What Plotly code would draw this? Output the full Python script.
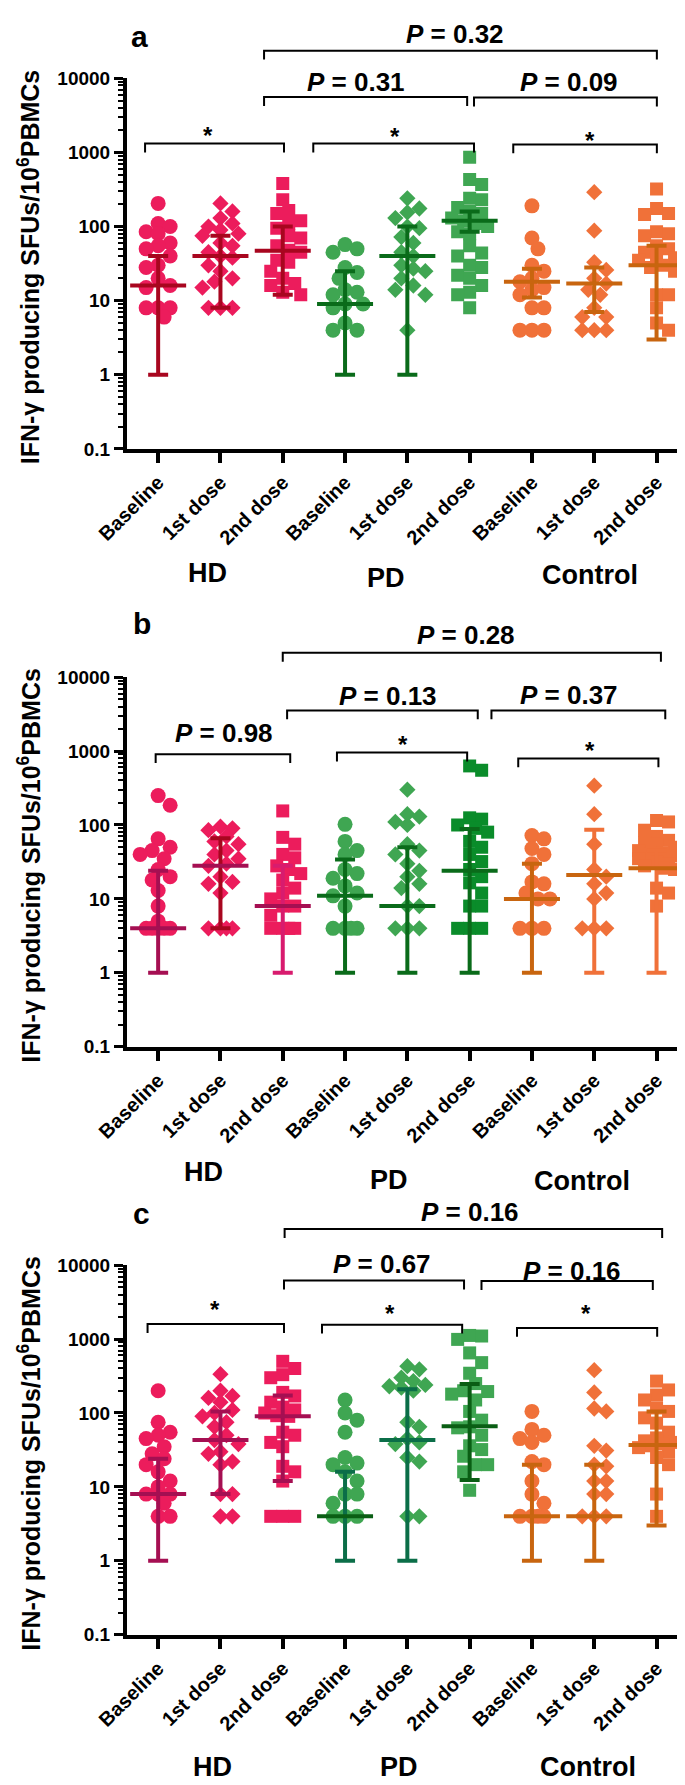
import numpy as np
import plotly.graph_objects as go

# ---------------- data ----------------
categories = ["Baseline", "1st dose", "2nd dose"] * 3
groups = ["HD", "PD", "Control"]
panel_letters = ["a", "b", "c"]
y_tick_values = [0.1, 1, 10, 100, 1000, 10000]
y_tick_text = ["0.1", "1", "10", "100", "1000", "10000"]
y_title = "IFN-γ producing SFUs/10<sup>6</sup>PBMCs"

# panel a
a_hd_baseline = [205, 110, 100, 85, 80, 60, 55, 50, 40, 30, 28, 20, 16, 15, 8, 8, 8, 6]
a_hd_1st = [205, 160, 130, 110, 100, 90, 80, 75, 60, 55, 45, 40, 38, 30, 25, 20, 18, 15, 8, 8, 8]
a_hd_2nd = [380, 230, 165, 150, 120, 110, 95, 75, 70, 55, 48, 45, 35, 33, 25, 20, 17, 16, 13, 12]
a_pd_baseline = [57, 50, 45, 28, 24, 20, 14, 13, 12, 9, 9, 8, 5, 4, 4]
a_pd_1st = [240, 175, 155, 130, 100, 95, 72, 60, 45, 40, 30, 27, 25, 20, 16, 14, 12, 4]
a_pd_2nd = [860, 430, 370, 240, 230, 180, 160, 150, 130, 120, 110, 100, 85, 80, 55, 44,
            40, 30, 28, 22, 20, 16, 13, 12, 8]
a_ctrl_baseline = [190, 70, 50, 30, 25, 20, 18, 15, 14, 12, 8, 8, 4, 4, 4]
a_ctrl_1st = [290, 88, 33, 26, 20, 17, 14, 12, 8, 6, 6, 4, 4, 4]
a_ctrl_2nd = [320, 175, 150, 145, 85, 80, 75, 55, 50, 45, 40, 38, 35, 30, 28, 25, 12, 12, 8, 5, 4]
a_median = [16, 40, 47, 9, 40, 120, 18, 17, 30]
a_low = [1, 8, 12, 1, 1, 85, 11, 7, 3]
a_high = [40, 75, 100, 25, 100, 160, 27, 28, 55]
a_pvalues = ["P = 0.32", "P = 0.31", "P = 0.09", "*", "*", "*"]

# panel b
b_hd_baseline = [250, 185, 65, 50, 45, 40, 35, 25, 20, 18, 13, 8, 5, 4, 4, 4, 4, 4]
b_hd_1st = [95, 90, 85, 70, 60, 55, 45, 40, 35, 30, 28, 20, 17, 16, 12, 4, 4, 4, 4]
b_hd_2nd = [155, 68, 55, 40, 36, 28, 25, 22, 18, 14, 12, 10, 8, 8, 6, 4, 4, 4, 4]
b_pd_baseline = [102, 60, 45, 40, 25, 22, 19, 15, 12, 11, 8, 4, 4, 4, 4]
b_pd_1st = [300, 140, 130, 110, 100, 55, 45, 40, 30, 24, 20, 16, 14, 8, 8, 4, 4, 4]
b_pd_2nd = [630, 550, 125, 120, 100, 90, 80, 60, 50, 40, 32, 25, 20, 16.5, 12, 8, 8, 4, 4, 4]
b_ctrl_baseline = [72, 65, 48, 40, 30, 17, 16, 12, 10, 10, 4, 4, 4]
b_ctrl_1st = [340, 140, 55, 25, 20, 16, 12, 10, 4, 4, 4]
b_ctrl_2nd = [115, 110, 85, 70, 62, 58, 55, 50, 45, 42, 40, 38, 35, 32, 30, 28, 26, 25, 14, 12, 8]
b_median = [4, 28, 8, 11, 8, 24, 10, 21, 26]
b_low = [1, 4, 1, 1, 1, 1, 1, 1, 1]
b_high = [24, 66, 28, 34, 50, 88, 30, 86, 45]
b_pvalues = ["P = 0.28", "P = 0.13", "P = 0.37", "P = 0.98", "*", "*"]

# panel c
c_hd_baseline = [200, 75, 55, 50, 45, 35, 28, 24, 20, 16, 12, 10, 8, 8, 8, 6, 4, 4]
c_hd_1st = [335, 200, 170, 160, 140, 110, 100, 90, 75, 65, 50, 43, 38, 30, 28, 22, 20, 8, 8, 4, 4]
c_hd_2nd = [500, 400, 330, 300, 190, 170, 140, 120, 110, 100, 92, 90, 55, 50, 40, 35,
            19, 16, 12, 4, 4, 4]
c_pd_baseline = [150, 100, 80, 55, 25, 21, 20, 16, 12, 8, 8, 6, 4, 4, 4]
c_pd_1st = [430, 390, 300, 270, 240, 230, 220, 200, 75, 65, 45, 40, 38, 25, 22, 4, 4]
c_pd_2nd = [1120, 1100, 990, 650, 480, 345, 250, 200, 195, 180, 150, 105, 80, 65, 63, 50,
            36, 32, 26, 20, 20, 16, 9]
c_ctrl_baseline = [105, 60, 50, 45, 40, 22, 20, 12, 8, 6, 4, 4, 4, 4]
c_ctrl_1st = [380, 190, 115, 105, 36, 31, 20, 19, 12, 12, 8, 8, 4, 4, 4]
c_ctrl_2nd = [270, 205, 175, 150, 117, 105, 86, 73, 55, 46, 42, 40, 38, 36, 34, 30, 25, 20, 8, 4]
c_median = [8, 43, 90, 4, 43, 66, 4, 4, 37]
c_low = [1, 8, 12, 1, 1, 12.4, 1, 1, 3]
c_high = [24, 105, 173, 16, 209, 247, 20, 20, 105]
c_pvalues = ["P = 0.16", "P = 0.67", "P = 0.16", "*", "*", "*"]

# ---------------- styles ----------------
FONT = "Liberation Sans, Arial, sans-serif"
PINK, GREEN, ORANGE = "#EC1C5C", "#3FA652", "#F07139"
DKRED, MAROON, MAGENTA = "#A8061F", "#A50F52", "#D81B6E"
DKGREEN, TEAL, DKGREEN2, GREEN2 = "#0A6B1A", "#0B6E48", "#0A5E14", "#0A8C2A"
DKORANGE = "#C8650F"

symbols = ["circle", "diamond", "square"] * 3
sizes = {"circle": 15, "diamond": 12.5, "square": 13}

panels = [
    dict(values=[a_hd_baseline, a_hd_1st, a_hd_2nd, a_pd_baseline, a_pd_1st, a_pd_2nd,
                 a_ctrl_baseline, a_ctrl_1st, a_ctrl_2nd],
         med=a_median, lo=a_low, hi=a_high, pv=a_pvalues,
         pcol=[PINK] * 3 + [GREEN] * 3 + [ORANGE] * 3,
         bcol=[DKRED] * 3 + [DKGREEN] * 3 + [DKORANGE] * 3,
         mcol=[DKRED] * 3 + [DKGREEN] * 3 + [DKORANGE] * 3),
    dict(values=[b_hd_baseline, b_hd_1st, b_hd_2nd, b_pd_baseline, b_pd_1st, b_pd_2nd,
                 b_ctrl_baseline, b_ctrl_1st, b_ctrl_2nd],
         med=b_median, lo=b_low, hi=b_high, pv=b_pvalues,
         pcol=[PINK] * 3 + [GREEN, GREEN, GREEN2] + [ORANGE] * 3,
         bcol=[MAROON, DKRED, MAGENTA, DKGREEN, DKGREEN, DKGREEN, DKORANGE, ORANGE, ORANGE],
         mcol=[MAROON, MAROON, MAROON, DKGREEN, DKGREEN, DKGREEN, DKORANGE, DKORANGE, DKORANGE]),
    dict(values=[c_hd_baseline, c_hd_1st, c_hd_2nd, c_pd_baseline, c_pd_1st, c_pd_2nd,
                 c_ctrl_baseline, c_ctrl_1st, c_ctrl_2nd],
         med=c_median, lo=c_low, hi=c_high, pv=c_pvalues,
         pcol=[PINK] * 3 + [GREEN] * 3 + [ORANGE] * 3,
         bcol=[MAROON] * 3 + [TEAL, TEAL, DKGREEN2] + [DKORANGE] * 3,
         mcol=[MAROON] * 3 + [DKGREEN2, TEAL, DKGREEN2] + [DKORANGE] * 3),
]

# layout geometry (pixels in a 685 x 1785 page)
W, H = 685, 1785
ML, MR = 119, 2
PLOT_W = W - ML - MR
CAT_PX = 62.3
X_RANGE = [-0.5, -0.5 + PLOT_W / CAT_PX]
panel_top_px = [61, 667, 1262]
panel_bot_px = [436, 1041, 1636]
PX_DECADE = 75.0

# bracket layout: (x0, x1, level(log10), label x, label level(log10)) matching pv order
brackets = [
    [(1.70, 8.005, 4.373, 4.76, 4.60), (1.70, 4.96, 3.747, 3.18, 3.95),
     (5.07, 8.005, 3.74, 6.59, 3.95), (-0.21, 2.02, 3.12, 0.80, 3.23),
     (2.49, 5.07, 3.12, 3.80, 3.21), (5.70, 8.005, 3.107, 6.93, 3.16)],
    [(2.0, 8.07, 4.33, 4.94, 4.57), (2.07, 5.13, 3.55, 3.69, 3.74),
     (5.35, 8.14, 3.55, 6.60, 3.76), (-0.04, 2.12, 2.957, 1.06, 3.25),
     (2.87, 4.96, 2.98, 3.93, 3.09), (5.78, 8.03, 2.90, 6.93, 3.01)],
    [(2.03, 8.09, 4.489, 5.01, 4.72), (2.02, 4.91, 3.792, 3.60, 4.01),
     (5.19, 7.94, 3.785, 6.65, 3.92), (-0.17, 2.02, 3.203, 0.91, 3.40),
     (2.63, 4.88, 3.195, 3.72, 3.35), (5.76, 8.01, 3.15, 6.87, 3.34)],
]
DROP = 0.12
group_label_pos = [
    [(0.79, -0.336), (3.66, -0.349), (6.93, -0.339)],
    [(0.72, -0.340), (3.71, -0.361), (6.80, -0.364)],
    [(0.87, -0.358), (3.87, -0.358), (6.90, -0.358)],
]
letter_pos = [(-0.30, 4.57), (-0.26, 4.72), (-0.26, 4.70)]


def swarm_offsets(vals, min_dist=12.0, step=6.0, max_off=22.0):
    """Deterministic beeswarm: horizontal offsets (category units) from the values."""
    y = np.log10(np.asarray(vals, float)) * PX_DECADE
    order = np.argsort(-y, kind="stable")
    placed = []
    offs = np.zeros(len(y))
    cands = [0.0]
    k = 1
    while k * step <= max_off:
        cands += [k * step, -k * step]
        k += 1
    for i in order:
        best, best_d = None, -1
        for c in cands:
            d = min([np.hypot(c - px, y[i] - py) for px, py in placed] or [1e9])
            if d >= min_dist:
                best = c
                break
            if d > best_d:
                best_d, best = d, c
        placed.append((best, y[i]))
        offs[i] = best
    return offs / CAT_PX


def dom(level):
    return (level + 1.0) / 5.0


fig = go.Figure()
shapes, annotations = [], []
minor_vals = [k * 10.0 ** e for e in range(-1, 4) for k in range(2, 10)]

for p, pan in enumerate(panels):
    sfx = "" if p == 0 else str(p + 1)
    xid, yid = "x" + sfx, "y" + sfx
    for i, vals in enumerate(pan["values"]):
        sym = symbols[i]
        offs = swarm_offsets(vals)
        fig.add_trace(go.Scatter(
            x=i + offs, y=vals, mode="markers", xaxis=xid, yaxis=yid,
            marker=dict(symbol=sym, size=sizes[sym], color=pan["pcol"][i], line=dict(width=0)),
            showlegend=False, hoverinfo="y"))
    for i in range(9):
        med, lo, hi = pan["med"][i], pan["lo"][i], pan["hi"][i]
        fig.add_trace(go.Scatter(
            x=[i], y=[med], mode="markers", xaxis=xid, yaxis=yid,
            marker=dict(symbol="line-ew", size=40, color=pan["mcol"][i],
                        line=dict(width=4, color=pan["mcol"][i])),
            error_y=dict(type="data", symmetric=False, array=[hi - med], arrayminus=[med - lo],
                         color=pan["bcol"][i], thickness=4, width=10),
            showlegend=False, hoverinfo="y"))

    top = 1 - panel_top_px[p] / H
    bot = 1 - panel_bot_px[p] / H
    fig.update_layout(**{
        ("xaxis" + sfx): dict(
            domain=[0, 1], range=X_RANGE, anchor=yid, tickmode="array",
            tickvals=list(range(9)), ticktext=categories, tickangle=-45,
            ticks="outside", ticklen=10, tickwidth=4, tickcolor="black",
            showline=True, linewidth=4, linecolor="black", showgrid=False, zeroline=False,
            tickfont=dict(family=FONT, size=20, color="black", weight="bold")),
        ("yaxis" + sfx): dict(
            domain=[bot, top], type="log", range=[-1, 4], anchor=xid, tickmode="array",
            tickvals=y_tick_values, ticktext=y_tick_text, ticks="outside", ticklen=9,
            tickwidth=3, tickcolor="black", showline=True, linewidth=4, linecolor="black",
            showgrid=False, zeroline=False,
            tickfont=dict(family=FONT, size=19, color="black", weight="bold"),
            minor=dict(tickmode="array", tickvals=minor_vals, ticks="outside", ticklen=5,
                       tickwidth=2, tickcolor="black", showgrid=False)),
    })

    for (x0, x1, lev, tx, tlev), label in zip(brackets[p], pan["pv"]):
        ytop, ydrop = dom(lev), dom(lev - DROP)
        shapes.append(dict(type="path", xref=xid, yref=yid + " domain",
                           path=f"M {x0},{ydrop} L {x0},{ytop} L {x1},{ytop} L {x1},{ydrop}",
                           line=dict(color="black", width=2)))
        if label == "*":
            txt, fsize = "<b>*</b>", 24
        else:
            txt, fsize = "<b><i>P</i> = " + label.split("= ")[1] + "</b>", 26
        annotations.append(dict(text=txt, x=tx, y=dom(tlev), xref=xid, yref=yid + " domain",
                                showarrow=False, xanchor="center", yanchor="middle",
                                font=dict(family=FONT, size=fsize, color="black")))

    for g, (gx, gy) in zip(groups, group_label_pos[p]):
        annotations.append(dict(text="<b>" + g + "</b>", x=gx, y=gy, xref=xid,
                                yref=yid + " domain", showarrow=False, xanchor="center",
                                yanchor="middle", font=dict(family=FONT, size=27, color="black")))
    lx, llev = letter_pos[p]
    annotations.append(dict(text="<b>" + panel_letters[p] + "</b>", x=lx, y=dom(llev), xref=xid,
                            yref=yid + " domain", showarrow=False, xanchor="center",
                            yanchor="middle", font=dict(family=FONT, size=30, color="black")))
    annotations.append(dict(text="<b>" + y_title + "</b>", textangle=-90, xref="paper",
                            x=(21 - ML) / PLOT_W, xanchor="center", yref=yid + " domain",
                            y=0.49, yanchor="middle", showarrow=False,
                            font=dict(family=FONT, size=25, color="black")))

fig.update_layout(width=W, height=H, margin=dict(l=ML, r=MR, t=0, b=0),
                  plot_bgcolor="white", paper_bgcolor="white", showlegend=False,
                  font=dict(family=FONT, color="black"), shapes=shapes, annotations=annotations)
fig.write_html("out.html")
